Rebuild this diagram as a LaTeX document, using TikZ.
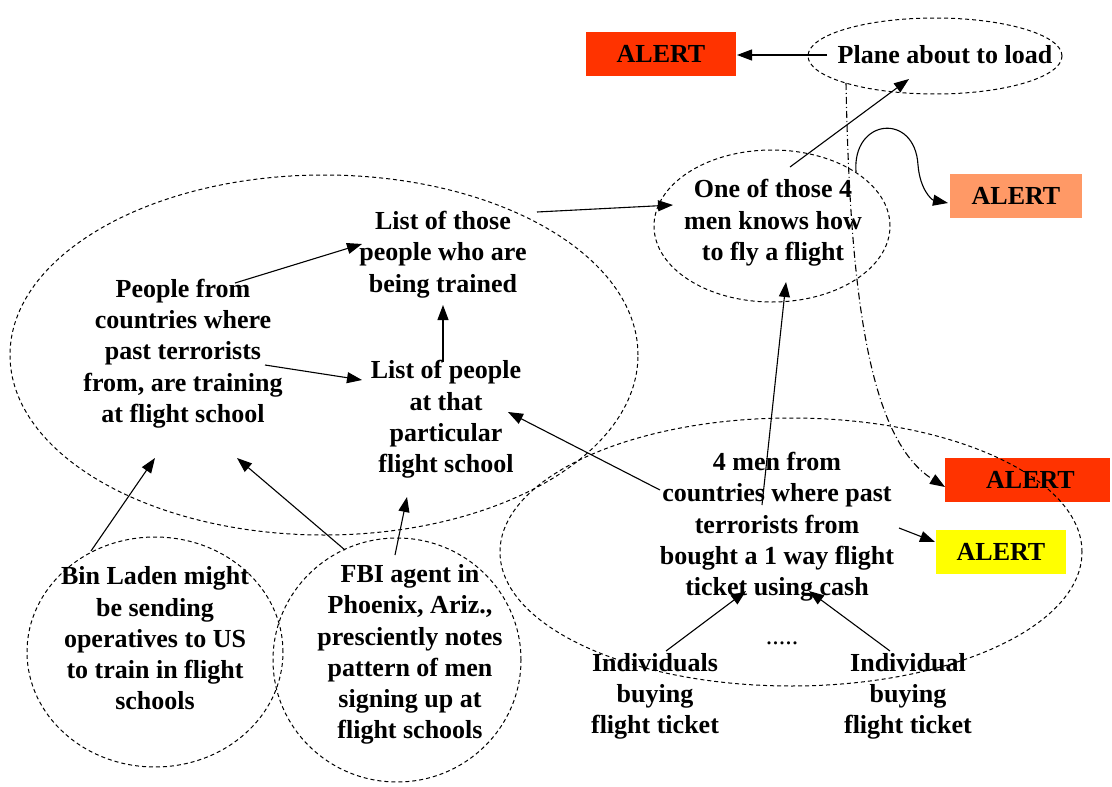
\documentclass[tikz,border=0pt]{standalone}
\usepackage{fontspec}
\setmainfont{Liberation Serif}
\usetikzlibrary{arrows.meta,shapes.geometric}
\definecolor{alertred}{HTML}{FF3300}
\definecolor{alertorange}{HTML}{FF9966}
\definecolor{alertyellow}{HTML}{FFFF00}
\begin{document}
\begin{tikzpicture}[x=1pt,y=-1pt,
  txt/.style={font=\fontsize{26}{31.3}\selectfont\bfseries, align=center, inner sep=0pt},
  ell/.style={draw, ellipse, inner sep=0pt, dash pattern=on 4pt off 3pt, line width=1pt},
  arr/.style={-{Triangle[length=15pt,width=11pt]}, line width=1.1pt},
  alertbox/.style={font=\fontsize{26}{31.3}\selectfont\bfseries, inner sep=0pt, minimum height=44pt}]
\useasboundingbox (0,0) rectangle (1112,787);
% alert boxes
\node[alertbox, fill=alertred, minimum width=150pt] (al1) at (661,53.5) {ALERT};
\node[alertbox, fill=alertorange, minimum width=132pt] (al2) at (1016,196) {ALERT};
\node[alertbox, fill=alertred, minimum width=165pt] (al3) at (1027.5,480) {\hspace*{6pt}ALERT};
\node[alertbox, fill=alertyellow, minimum width=130pt] (al4) at (1001,552) {ALERT};
% texts
\node[txt] (plane) at (945,55) {Plane about to load};
\node[txt] (one) at (773,223) {One of those 4\\men knows how\\to fly a flight};
\node[txt] (listthose) at (443,254.5) {List of those\\people who are\\being trained};
\node[txt] (people) at (183,353.5) {People from\\countries where\\past terrorists\\from, are training\\at flight school};
\node[txt] (listpeople) at (446,419.5) {List of people\\at that\\particular\\flight school};
\node[txt] (fourmen) at (777,527) {4 men from\\countries where past\\terrorists from\\bought a 1 way flight\\ticket using cash};
\node[txt] (binladen) at (155,638.5) {Bin Laden might\\be sending\\operatives to US\\to train in flight\\schools};
\node[txt] (fbi) at (410,654.5) {FBI agent in\\Phoenix, Ariz.,\\presciently notes\\pattern of men\\signing up at\\flight schools};
\node[txt] (indiv1) at (655,696.5) {Individuals\\buying\\flight ticket};
\node[txt] (indiv2) at (908,696.5) {Individual\\buying\\flight ticket};
\node[font=\fontsize{26}{30}\selectfont, inner sep=0pt] (dots) at (782,643) {.....};
% ellipses
\node[ell, minimum width=254pt, minimum height=76pt] (eplane) at (935,56) {};
\node[ell, minimum width=236pt, minimum height=152pt] (eone) at (772,226) {};
\node[ell, minimum width=628pt, minimum height=360pt] (ebig) at (324,355) {};
\node[ell, minimum width=582pt, minimum height=268pt] (efour) at (791,552) {};
\node[ell, minimum width=256pt, minimum height=230pt] (ebin) at (155,652) {};
\node[ell, minimum width=248pt, minimum height=244pt] (efbi) at (397,660) {};
% connector end points
\coordinate (p1s) at (827,55);   \coordinate (p1e) at (737,55);
\coordinate (p2s) at (790,167);  \coordinate (p2e) at (909,79);
\coordinate (p3s) at (856,172);  \coordinate (p3e) at (948,203);
\coordinate (p4s) at (846,83);   \coordinate (p4e) at (945,487);
\coordinate (p5s) at (537,212);  \coordinate (p5e) at (673,205);
\coordinate (p6s) at (235,283);  \coordinate (p6e) at (362,244);
\coordinate (p7s) at (265,365);  \coordinate (p7e) at (362,380);
\coordinate (p8s) at (443,362);  \coordinate (p8e) at (443,305);
\coordinate (p9s) at (660,490);  \coordinate (p9e) at (508,412);
\coordinate (p10s) at (762,505); \coordinate (p10e) at (786,282);
\coordinate (p11s) at (899,528); \coordinate (p11e) at (935,542);
\coordinate (p12s) at (666,651); \coordinate (p12e) at (746,591);
\coordinate (p13s) at (890,651); \coordinate (p13e) at (809,591);
\coordinate (p14s) at (91,551);  \coordinate (p14e) at (155,458);
\coordinate (p15s) at (345,550); \coordinate (p15e) at (237,458);
\coordinate (p16s) at (395,555); \coordinate (p16e) at (407,497);
% connectors
\draw[arr] (p1s) -- (p1e);
\draw[arr] (p2s) -- (p2e);
\draw[arr] (p3s) .. controls (852,118) and (915,112) .. (918,165) .. controls (920,190) and (932,200) .. (p3e);
\draw[arr, dash pattern=on 7pt off 3pt on 1pt off 3pt] (p4s) .. controls (850,300) and (870,440) .. (p4e);
\draw[arr] (p5s) -- (p5e);
\draw[arr] (p6s) -- (p6e);
\draw[arr] (p7s) -- (p7e);
\draw[arr] (p8s) -- (p8e);
\draw[arr] (p9s) -- (p9e);
\draw[arr] (p10s) -- (p10e);
\draw[arr] (p11s) -- (p11e);
\draw[arr] (p12s) -- (p12e);
\draw[arr] (p13s) -- (p13e);
\draw[arr] (p14s) -- (p14e);
\draw[arr] (p15s) -- (p15e);
\draw[arr] (p16s) -- (p16e);
\end{tikzpicture}
\end{document}
